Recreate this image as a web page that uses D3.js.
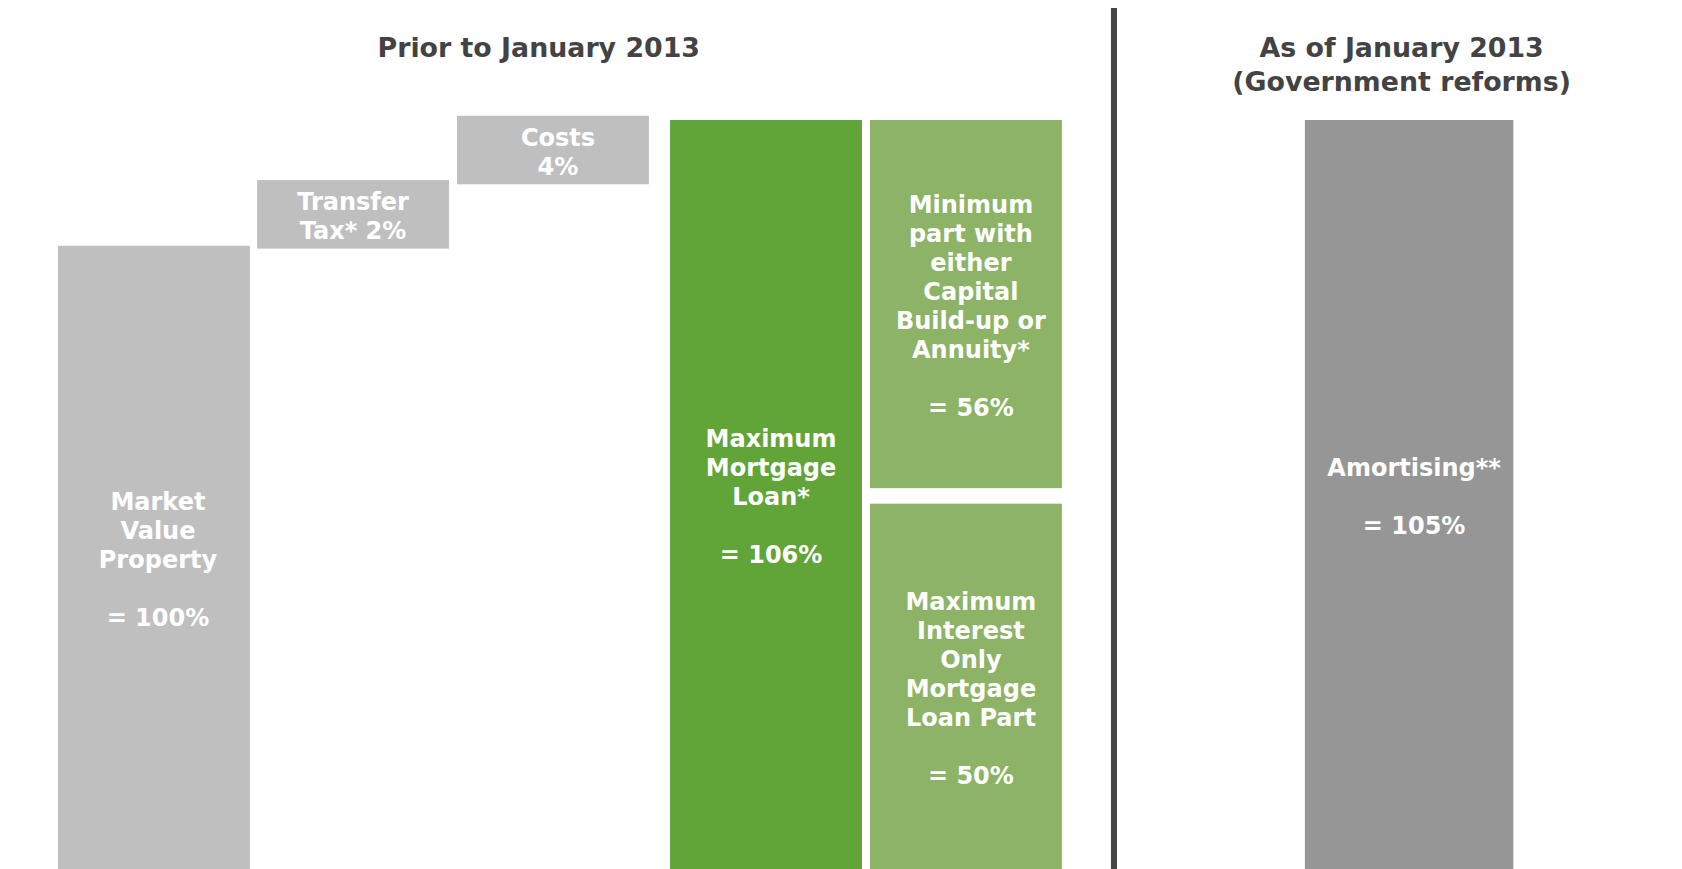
<!DOCTYPE html>
<html>
<head>
<meta charset="utf-8">
<script src="https://cdn.jsdelivr.net/npm/d3@7"></script>
<style>
  html, body { margin: 0; padding: 0; background: #ffffff; overflow: hidden; }
  svg { display: block; }
</style>
</head>
<body>
<svg id="chart" width="1682" height="869"></svg>
<script>
// ---------------- data ----------------
const categories = [
  "Market Value Property",
  "Transfer Tax*",
  "Costs",
  "Maximum Mortgage Loan*",
  "Minimum part with either Capital Build-up or Annuity*",
  "Maximum Interest Only Mortgage Loan Part",
  "Amortising**"
];
const values = [100, 2, 4, 106, 56, 50, 105];   // percentages shown in the labels
const panels = ["prior", "prior", "prior", "prior", "prior", "prior", "reform"];
const labelLines = [
  ["Market", "Value", "Property", "", "= 100%"],
  ["Transfer", "Tax* 2%"],
  ["Costs", "4%"],
  ["Maximum", "Mortgage", "Loan*", "", "= 106%"],
  ["Minimum", "part with", "either", "Capital", "Build-up or", "Annuity*", "", "= 56%"],
  ["Maximum", "Interest", "Only", "Mortgage", "Loan Part", "", "= 50%"],
  ["Amortising**", "", "= 105%"]
];
// schematic (not-to-scale) extents of each block as drawn, in the chart's level units
const barFrom = [0, 87.8, 96.9, 0, 53.9, 0, 0];
const barTo   = [88.2, 97.5, 106.6, 106, 106, 51.7, 106];
// column slot of each block (column units)
const barSlot  = [0, 0.998, 2.0, 3.068, 4.07, 4.07, 6.25];
const barSpan  = [0.962, 0.962, 0.962, 0.962, 0.962, 0.962, 1.045];
const titleLines = [["Prior to January 2013"], ["As of January 2013", "(Government reforms)"]];
const titleSlot = [2.41, 6.735];
const dividerSlot = 5.293;

// ---------------- styles ----------------
const colors = ["#bfbfbf", "#bfbfbf", "#bfbfbf", "#61a437", "#8db367", "#8db367", "#969696"];
const labelShift = [4, 0, 5, 5, 5, 5, 5];
const FONT = "'DejaVu Sans', Verdana, sans-serif";

// ---------------- scales ----------------
const W = 1682, H = 869;
const x = d3.scaleLinear().domain([0, 1]).range([58, 257.5]);
const y = d3.scaleLinear().domain([0, 106]).range([H, 120]);

const svg = d3.select("#chart");

const data = categories.map((c, i) => ({
  name: c, value: values[i], panel: panels[i], lines: labelLines[i],
  from: barFrom[i], to: barTo[i], slot: barSlot[i], span: barSpan[i],
  color: colors[i], dx: labelShift[i]
}));

// bars
svg.append("g").selectAll("rect").data(data).join("rect")
  .attr("x", d => x(d.slot))
  .attr("width", d => x(d.slot + d.span) - x(d.slot))
  .attr("y", d => y(d.to))
  .attr("height", d => y(d.from) - y(d.to))
  .attr("fill", d => d.color);

// labels
const LH = 29, FS = 24, DY = 1;
const labels = svg.append("g").selectAll("text").data(data).join("text")
  .attr("text-anchor", "middle")
  .attr("font-family", FONT)
  .attr("font-weight", "bold")
  .attr("font-size", FS)
  .attr("fill", "#ffffff");
labels.each(function(d) {
  const cx = (x(d.slot) + x(d.slot + d.span)) / 2 + d.dx;
  const cy = (y(d.to) + Math.min(H, y(d.from))) / 2 + DY;
  const n = d.lines.length;
  const first = cy - (n - 1) * LH / 2 + 0.39 * FS;
  d3.select(this).selectAll("tspan").data(d.lines).join("tspan")
    .attr("x", cx)
    .attr("y", (t, i) => first + i * LH)
    .text(t => t);
});

// divider
svg.append("rect")
  .attr("x", x(dividerSlot) - 3)
  .attr("width", 6)
  .attr("y", 8)
  .attr("height", H - 8)
  .attr("fill", "#454545");

// panel titles
svg.append("g").selectAll("text").data(titleLines).join("text")
  .attr("text-anchor", "middle")
  .attr("font-family", FONT)
  .attr("font-weight", "bold")
  .attr("font-size", 26.8)
  .attr("fill", "#434343")
  .each(function(lines, k) {
    d3.select(this).selectAll("tspan").data(lines).join("tspan")
      .attr("x", x(titleSlot[k]))
      .attr("y", (t, i) => 57 + i * 34)
      .text(t => t);
  });
</script>
</body>
</html>
